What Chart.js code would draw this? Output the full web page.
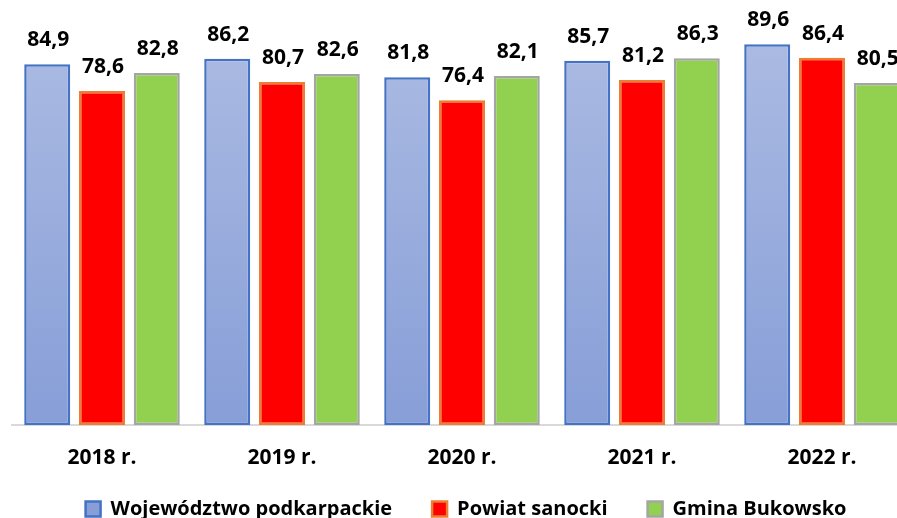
<!DOCTYPE html>
<html>
<head>
<meta charset="utf-8">
<script src="https://cdn.jsdelivr.net/npm/chart.js@4"></script>
<style>
  html, body { margin: 0; padding: 0; background: #ffffff; overflow: hidden; }
  #wrap { position: absolute; left: 0; top: 0; }
</style>
</head>
<body>
<div id="wrap"><canvas id="chart" width="920" height="540"></canvas></div>
<script>
// chart data
const years = ['2018 r.', '2019 r.', '2020 r.', '2021 r.', '2022 r.'];
const wojewodztwo = [84.9, 86.2, 81.8, 85.7, 89.6];
const powiat = [78.6, 80.7, 76.4, 81.2, 86.4];
const gmina = [82.8, 82.6, 82.1, 86.3, 80.5];
const seriesNames = ['Województwo podkarpackie', 'Powiat sanocki', 'Gmina Bukowsko'];

const FONT = "'Open Sans', 'DejaVu Sans', sans-serif";

// light blue gradient like the Excel fill
function blueFill(context) {
  const chart = context.chart;
  const area = chart.chartArea;
  if (!area) return '#98abdc';
  const g = chart.ctx.createLinearGradient(0, area.top, 0, area.bottom);
  g.addColorStop(0, '#aebde3');
  g.addColorStop(1, '#879ed7');
  return g;
}

// value labels above each bar
const valueLabels = {
  id: 'valueLabels',
  afterDatasetsDraw(chart) {
    const ctx = chart.ctx;
    ctx.save();
    ctx.font = 'bold 21px ' + FONT;
    ctx.fillStyle = '#000000';
    ctx.textAlign = 'center';
    ctx.textBaseline = 'alphabetic';
    chart.data.datasets.forEach((ds, i) => {
      chart.getDatasetMeta(i).data.forEach((bar, j) => {
        const txt = ds.data[j].toFixed(1).replace('.', ',');
        ctx.fillText(txt, bar.x + 1, bar.y - 18);
      });
    });
    ctx.restore();
  }
};

// move the legend up and a bit right, as in the original
const legendShift = {
  id: 'legendShift',
  afterLayout(chart) {
    const lg = chart.legend;
    if (lg) {
      lg.left += 4;
      lg.right += 4;
      lg.top -= 11;
      lg.bottom -= 11;
    }
  }
};

new Chart(document.getElementById('chart'), {
  type: 'bar',
  data: {
    labels: years,
    datasets: [
      {
        label: seriesNames[0],
        data: wojewodztwo,
        backgroundColor: blueFill,
        borderColor: '#4472c4',
        borderWidth: 2.5
      },
      {
        label: seriesNames[1],
        data: powiat,
        backgroundColor: '#ff0000',
        borderColor: '#ed7d31',
        borderWidth: 2.5
      },
      {
        label: seriesNames[2],
        data: gmina,
        backgroundColor: '#92d050',
        borderColor: '#a5a5a5',
        borderWidth: 2.5
      }
    ]
  },
  options: {
    responsive: false,
    animation: false,
    datasets: {
      bar: {
        categoryPercentage: 0.913,
        barPercentage: 0.84,
        borderSkipped: false
      }
    },
    layout: { padding: { left: 12, right: 8, top: 0, bottom: 0 } },
    plugins: {
      legend: {
        position: 'bottom',
        labels: {
          boxWidth: 15,
          boxHeight: 15,
          padding: 40,
          color: '#000000',
          font: { family: FONT, size: 20, weight: 'bold' }
        }
      },
      tooltip: { enabled: false }
    },
    scales: {
      y: {
        display: false,
        min: 0,
        max: 100
      },
      x: {
        grid: { display: false, drawTicks: false },
        border: { display: true, color: '#d9d9d9', width: 2 },
        ticks: {
          padding: 20,
          color: '#000000',
          font: { family: FONT, size: 21, weight: 'bold' }
        },
        afterFit(scale) {
          scale.height = 45;
        }
      }
    }
  },
  plugins: [valueLabels, legendShift]
});
</script>
</body>
</html>
